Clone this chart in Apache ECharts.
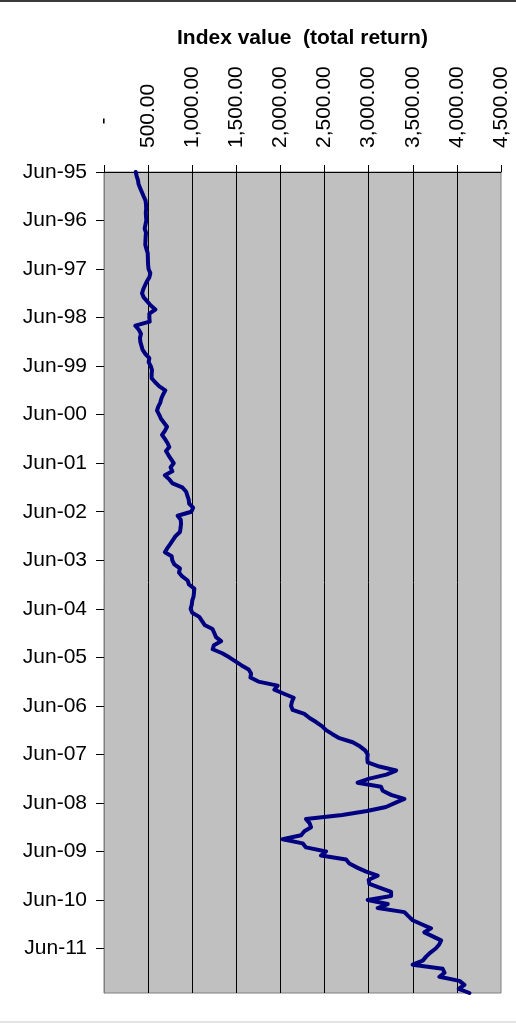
<!DOCTYPE html>
<html>
<head>
    <meta charset="utf-8">
    <title>Index value (total return)</title>
    <script src="https://cdn.jsdelivr.net/npm/echarts@6/dist/echarts.min.js"></script>
    <style>
        html, body { margin: 0; padding: 0; background: #fff; }
    </style>
</head>
<body>
    <div id="main" style="width:516px;height:1024px;"></div>
    <script type="text/javascript">

        // month labels, Jun-95 .. May-12
        var monthNames = ['Jan', 'Feb', 'Mar', 'Apr', 'May', 'Jun', 'Jul', 'Aug', 'Sep', 'Oct', 'Nov', 'Dec'];
        var months = [];
        for (var i = 0; i < 204; i++) {
            var m = (5 + i) % 12;
            var y = (1995 + Math.floor((5 + i) / 12)) % 100;
            months.push(monthNames[m] + '-' + (y < 10 ? '0' + y : y));
        }

        // monthly index values, each row runs Jun .. May
        var v1995 = [360, 370, 385, 392, 410, 430, 449, 470, 476, 478, 474, 476];
        var v1996 = [480, 470, 461, 476, 472, 470, 468, 480, 495, 497, 498, 500];
        var v1997 = [505, 525, 515, 487, 465, 445, 431, 450, 490, 530, 582, 514];
        var v1998 = [514, 518, 355, 395, 419, 408, 412, 425, 438, 470, 514, 506];
        var v1999 = [530, 544, 540, 540, 580, 627, 695, 670, 650, 638, 615, 601];
        var v2000 = [625, 646, 680, 714, 690, 658, 690, 720, 740, 703, 730, 760];
        var v2001 = [790, 755, 774, 690, 740, 778, 887, 930, 945, 960, 965, 1010];
        var v2002 = [990, 835, 870, 873, 868, 861, 812, 780, 750, 718, 690, 767];
        var v2003 = [774, 797, 861, 850, 887, 948, 963, 1024, 1020, 1015, 1000, 995];
        var v2004 = [982, 1000, 1080, 1110, 1140, 1230, 1250, 1270, 1327, 1246, 1232, 1340];
        var v2005 = [1420, 1490, 1560, 1640, 1667, 1660, 1750, 1968, 1931, 2040, 2150, 2130];
        var v2006 = [2120, 2138, 2271, 2330, 2404, 2470, 2517, 2590, 2668, 2819, 2900, 2960];
        var v2007 = [2989, 2985, 2989, 3121, 3311, 3200, 3008, 2875, 3140, 3159, 3254, 3405];
        var v2008 = [3300, 3197, 2980, 2700, 2290, 2330, 2347, 2271, 2234, 2025, 2252, 2290];
        var v2009 = [2517, 2460, 2744, 2781, 2870, 2971, 3102, 3000, 3008, 3130, 3254, 3254];
        var v2010 = [2989, 3216, 3102, 3405, 3450, 3499, 3600, 3707, 3631, 3726, 3821, 3800];
        var v2011 = [3760, 3700, 3651, 3613, 3499, 3839, 3860, 3802, 4029, 4085, 4021, 4142];

        var indexValues = [].concat(v1995, v1996, v1997, v1998, v1999, v2000, v2001, v2002,
            v2003, v2004, v2005, v2006, v2007, v2008, v2009, v2010, v2011);

        var axisMin = 0, axisMax = 4500, axisStep = 500;

        // zero is drawn separately as an accounting-style dash (see graphic below)
        function fmt(v) {
            if (Number(v) === 0) return '';
            return Number(v).toLocaleString('en-US', { minimumFractionDigits: 2, maximumFractionDigits: 2 });
        }

        var font = '"Liberation Sans", Arial, sans-serif';
        var myChart = echarts.init(document.getElementById('main'));

        var option = {
            animation: false,
            title: {
                text: 'Index value  (total return)',
                left: 172,
                top: 23,
                textStyle: { fontFamily: font, fontSize: 21, fontWeight: 'bold', color: '#000' }
            },
            graphic: [
                { type: 'rect', shape: { x: 0, y: 0, width: 516, height: 2 }, style: { fill: '#3a3a3a' } },
                { type: 'rect', shape: { x: 0, y: 1021, width: 516, height: 2 }, style: { fill: '#e4e4e4' } },
                {
                    type: 'text', x: 104, y: 121, rotation: -Math.PI / 2,
                    style: { text: '-', font: '21px "Liberation Sans", Arial, sans-serif', fill: '#000', align: 'center', verticalAlign: 'middle' }
                }
            ],
            grid: {
                left: 104, right: 15, top: 172, bottom: 31,
                show: true,
                backgroundColor: '#c0c0c0',
                borderColor: '#808080',
                borderWidth: 1
            },
            xAxis: {
                type: 'value',
                position: 'top',
                min: axisMin,
                max: axisMax,
                interval: axisStep,
                axisLine: { show: true, lineStyle: { color: '#000', width: 1 } },
                axisTick: { show: true, length: 7, lineStyle: { color: '#000' } },
                axisLabel: {
                    rotate: -90,
                    margin: 24,
                    fontFamily: font,
                    fontSize: 21,
                    color: '#000',
                    formatter: fmt
                },
                splitLine: {
                    show: true,
                    showMinLine: false,
                    showMaxLine: false,
                    lineStyle: { color: '#000', width: 1 }
                }
            },
            yAxis: {
                type: 'category',
                inverse: true,
                boundaryGap: false,
                data: months,
                axisLine: { show: true, lineStyle: { color: '#808080', width: 1 } },
                axisTick: { show: true, interval: 11, length: 8, lineStyle: { color: '#000' } },
                axisLabel: { interval: 11, margin: 17, fontFamily: font, fontSize: 21, color: '#000' },
                splitLine: { show: false }
            },
            series: [
                {
                    name: 'Index value',
                    type: 'line',
                    data: indexValues,
                    showSymbol: false,
                    lineStyle: { color: '#000080', width: 4, join: 'round', cap: 'round' },
                    itemStyle: { color: '#000080' }
                }
            ]
        };
        myChart.setOption(option);

    </script>
</body>
</html>
